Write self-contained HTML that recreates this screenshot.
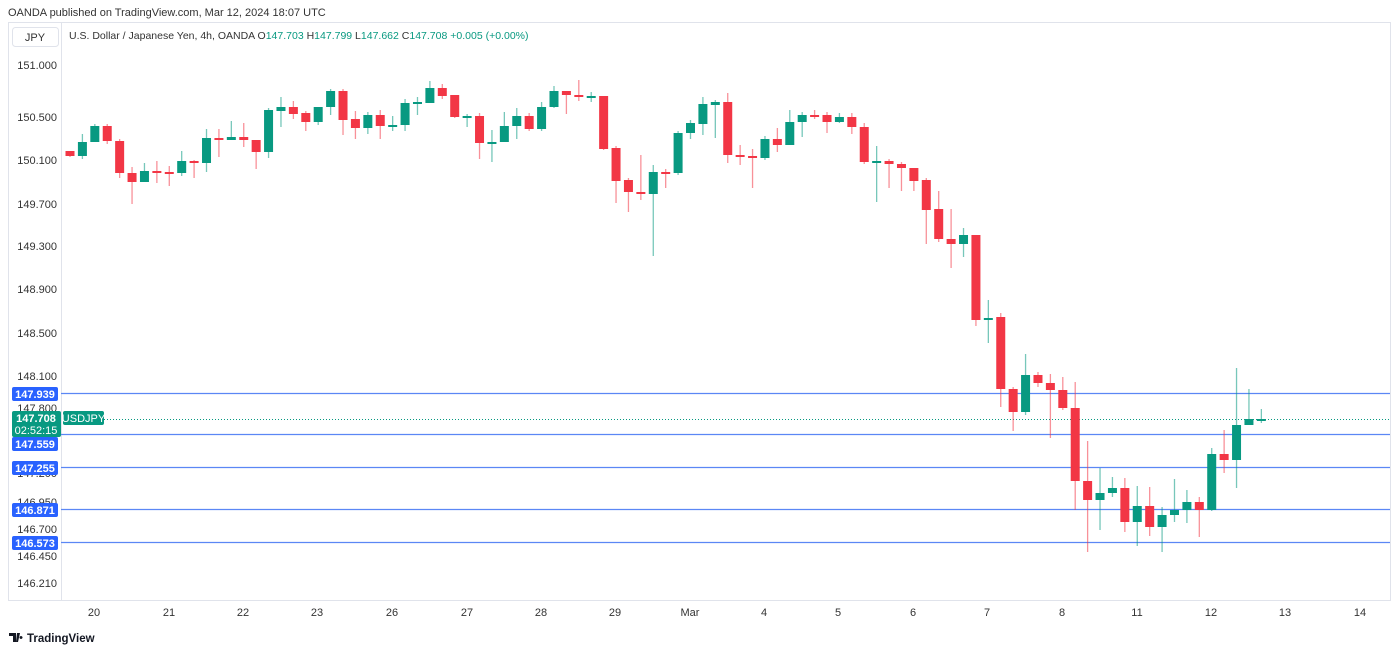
<!DOCTYPE html>
<html><head><meta charset="utf-8"><style>
html,body{margin:0;padding:0;background:#fff;width:1400px;height:653px;overflow:hidden;font-family:"Liberation Sans",sans-serif;}
</style></head><body>
<svg id="s" width="1400" height="653" xmlns="http://www.w3.org/2000/svg" font-family="Liberation Sans, sans-serif">
<text x="8" y="16" font-size="11" fill="#333">OANDA published on TradingView.com, Mar 12, 2024 18:07 UTC</text>
<rect x="8.5" y="22.5" width="1382" height="578" fill="none" stroke="#e0e3eb"/>
<line x1="61.5" y1="22" x2="61.5" y2="600" stroke="#e0e3eb"/>
<rect x="12.5" y="27.5" width="46" height="19" rx="3" fill="#fff" stroke="#e0e3eb"/>
<text x="35" y="41" font-size="11" fill="#333" text-anchor="middle">JPY</text>
<text x="69" y="39" font-size="10.5" fill="#333">U.S. Dollar / Japanese Yen, 4h, OANDA  O<tspan fill="#089981">147.703</tspan>  H<tspan fill="#089981">147.799</tspan>  L<tspan fill="#089981">147.662</tspan>  C<tspan fill="#089981">147.708</tspan>  <tspan fill="#089981">+0.005 (+0.00%)</tspan></text>
<g id="ax" font-size="11" fill="#333" text-anchor="end"></g>
<g id="lines"></g>
<g id="c"></g>
<g id="tags"></g>
<g id="days" font-size="11" fill="#333" text-anchor="middle"></g>
<g transform="translate(9,631)"><path d="M0 2h7v9h-3v-6h-4z M8 2h3l-2 9h-2z M12 5a1.5 1.5 0 1 0 0.01 0z" fill="#131722"/><text x="18" y="11" font-size="11.5" font-weight="bold" fill="#131722">TradingView</text></g>
</svg>
<script>
const NS="http://www.w3.org/2000/svg";
function el(p,t,a,txt){const e=document.createElementNS(NS,t);for(const k in a)e.setAttribute(k,a[k]);if(txt!==undefined)e.textContent=txt;document.getElementById(p).appendChild(e);return e;}
[["151.000",65],["150.500",117],["150.100",160],["149.700",204],["149.300",246],["148.900",289],["148.500",333],["148.100",376],["147.800",408],["147.200",473],["146.950",502],["146.700",529],["146.450",556],["146.210",583]].forEach(a=>el("ax","text",{x:57,y:a[1]+4},a[0]));
[393.5,434.5,467.5,509.5,542.5].forEach(y=>el("lines","line",{x1:61,x2:1390,y1:y,y2:y,stroke:"#5b87f5","stroke-width":1.3}));
el("lines","line",{x1:104,x2:1390,y1:419.5,y2:419.5,stroke:"#089981","stroke-dasharray":"1 2"});
// [type, top, bottom, high, low] type g/r
const D=[
["r",151,156,151,157],["g",142,156,134,159],["g",126,142,124,142],["r",126,141,124,144],["r",141,173,139,178],["r",173,182,167,204],["g",171,182,163,182],["r",171,172,161,183],["r",172,173,166,186],["g",161,173,151,176],
["r",161,163,160,178],["g",138,163,129,172],["r",138,140,129,157],["g",137,140,121,140],["r",137,140,123,147],["r",140,152,140,169],["g",110,152,108,158],["g",107,111,97,127],["r",107,114,101,119],["r",113,122,111,131],
["g",107,122,107,125],["g",91,107,89,115],["r",91,120,89,135],["r",119,128,111,139],["g",115,128,112,134],["r",115,126,110,139],["g",125,126,116,131],["g",103,125,99,131],["g",102,103,97,115],["g",88,103,81,103],
["r",88,96,84,99],["r",95,117,95,118],["g",116,117,114,127],["r",116,143,113,159],["g",142,143,130,162],["g",126,142,112,142],["g",116,126,108,139],["r",116,129,113,131],["g",107,129,102,131],["g",91,107,86,108],
["r",91,95,91,114],["r",95,97,80,101],["g",96,97,92,102],["r",96,149,96,150],["r",148,181,146,203],["r",180,192,178,212],["r",192,194,155,200],["g",172,194,165,256],["r",172,173,169,188],["g",133,173,131,175],
["g",123,133,120,139],["g",104,124,97,135],["g",102,105,100,138],["r",102,155,93,163],["r",155,156,145,165],["r",156,158,149,188],["g",139,158,136,160],["r",139,145,128,152],["g",122,145,110,145],["g",115,122,112,137],
["r",115,116,110,119],["r",115,122,112,133],["g",117,122,113,123],["r",117,127,113,134],["r",127,162,123,164],["g",161,162,146,202],["r",161,164,159,188],["r",164,168,162,191],["r",168,181,168,191],["r",180,210,178,244],
["r",209,239,191,242],["r",239,244,209,268],["g",235,244,228,257],["r",235,320,235,326],["g",318,320,300,343],["r",317,389,313,407],["r",389,412,387,431],["g",375,412,354,415],["r",375,383,372,387],["r",383,390,374,438],
["r",390,408,377,410],["r",408,481,382,510],["r",481,500,441,552],["g",493,500,468,530],["g",488,493,477,497],["r",488,522,478,532],["g",506,522,486,546],["r",506,527,487,536],["g",515,527,507,552],["g",510,515,479,522],
["g",502,510,490,523],["r",502,510,497,537],["g",454,510,448,511],["r",454,460,430,473],["g",425,460,368,488],["g",419,425,389,425],["g",419,420,409,423]];
D.forEach((d,i)=>{const x=70+12.41*i;const c=d[0]=="g"?"#089981":"#f23645";
el("c","line",{x1:x,x2:x,y1:d[3],y2:d[4],stroke:c,"stroke-opacity":0.55,"stroke-width":1.3});
const h=Math.max(d[2]-d[1],2);el("c","rect",{x:x-4.5,y:d[1],width:9,height:h,fill:c});});
function tag(y,t){el("tags","rect",{x:12,y:y-7,width:46,height:14,rx:2,fill:"#2962ff"});el("tags","text",{x:35,y:y+4,"font-size":11,"font-weight":"bold",fill:"#fff","text-anchor":"middle"},t);}
tag(394,"147.939");tag(444,"147.559");tag(468,"147.255");tag(510,"146.871");tag(543,"146.573");
el("tags","rect",{x:12,y:411,width:49,height:26,rx:2,fill:"#089981"});
el("tags","text",{x:36,y:422,"font-size":11,"font-weight":"bold",fill:"#fff","text-anchor":"middle"},"147.708");
el("tags","text",{x:36,y:434,"font-size":11,fill:"#fff","text-anchor":"middle"},"02:52:15");
el("tags","rect",{x:63,y:411,width:41,height:14,rx:2,fill:"#089981"});
el("tags","text",{x:83.5,y:422,"font-size":11,fill:"#fff","text-anchor":"middle"},"USDJPY");
[["20",94],["21",169],["22",243],["23",317],["26",392],["27",467],["28",541],["29",615],["Mar",690],["4",764],["5",838],["6",913],["7",987],["8",1062],["11",1137],["12",1211],["13",1285],["14",1360]].forEach(a=>el("days","text",{x:a[1],y:616},a[0]));
</script>
</body></html>
